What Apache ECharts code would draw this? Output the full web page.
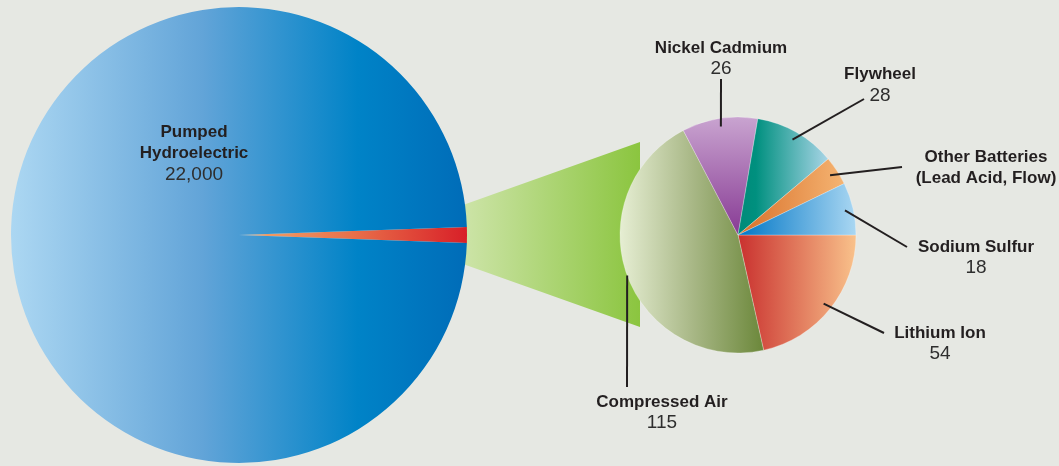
<!DOCTYPE html>
<html>
<head>
<meta charset="utf-8">
<script src="https://cdn.jsdelivr.net/npm/echarts@6/dist/echarts.min.js"></script>
<style>
  html, body { margin: 0; padding: 0; background: #e6e8e3; }
  #main { width: 1059px; height: 466px; }
</style>
</head>
<body>
<div id="main"></div>
<script>
// 数据
const bigCategories = ['Pumped Hydroelectric'];
const bigValues = [22000];

const smallCategories = ['Lithium Ion', 'Compressed Air', 'Nickel Cadmium', 'Flywheel', 'Other Batteries', 'Sodium Sulfur'];
const smallValues = [54, 115, 26, 28, 10, 18];
const smallShowValue = [true, true, true, true, false, true];

// 标签文字（换行）
const bigLabelNames = ['Pumped\nHydroelectric'];
const smallLabelNames = ['Lithium Ion', 'Compressed Air', 'Nickel Cadmium', 'Flywheel', 'Other Batteries\n(Lead Acid, Flow)', 'Sodium Sulfur'];

// 布局
const bigCenter = [239, 235], bigRadius = 228;
const smallCenter = [738, 235], smallRadius = 118;
const bigLabelPos = [194, 153.5];
const smallLabelPos = [[940, 343.5], [662, 412.5], [721, 58.5], [880, 85], [986, 168], [976, 257.5]];
const lineEndOffset = [[-56, -10.5], [-35, -25.5], [0, 20.5], [-16, 14], [-84, -1], [-69, -10.5]];
const lineStartR = [0.93, 1.0, 0.93, 0.93, 0.93, 0.93];

// 字体检测
function hasFont(name) {
  const ctx = document.createElement('canvas').getContext('2d');
  const t = 'Compressed Air 22,000';
  ctx.font = 'bold 20px monospace';
  const a = ctx.measureText(t).width;
  ctx.font = 'bold 20px "' + name + '", monospace';
  return ctx.measureText(t).width !== a;
}
const narrow = hasFont('Liberation Sans Narrow');
const nameFont = narrow ? { family: 'Liberation Sans Narrow', size: 20 } : { family: 'Liberation Sans', size: 17 };
const textColor = '#231f20';

const rich = {
  n: { fontFamily: nameFont.family, fontWeight: 'bold', fontSize: nameFont.size, lineHeight: 21, color: textColor, align: 'center' },
  v: { fontFamily: 'Liberation Sans', fontSize: 19, lineHeight: 21, color: '#2e2e2e', align: 'center' }
};

function fmt(v) { return v.toLocaleString('en-US'); }
function labelText(name, value, show) {
  let s = name.split('\n').map(x => '{n|' + x + '}').join('\n');
  if (show) s += '\n{v|' + fmt(value) + '}';
  return s;
}
function grad(x2, y2, stops) {
  return new echarts.graphic.LinearGradient(0, 0, x2, y2, stops.map(c => ({ offset: c[0], color: c[1] })));
}

const smallColors = [
  grad(1, 0, [[0, '#c9302e'], [1, '#f9c28b']]),
  grad(1, 0, [[0, '#e6eed3'], [0.5, '#a9b887'], [1, '#6b873a']]),
  grad(0, 1, [[0, '#c9a4d0'], [1, '#873a94']]),
  grad(1, 0, [[0, '#008a78'], [0.2, '#00907f'], [1, '#a9d5e7']]),
  grad(1, 0, [[0, '#d8702a'], [1, '#f5b472']]),
  grad(1, 0, [[0, '#0076c6'], [1, '#aad7f2']])
];

const restTotal = smallValues.reduce((a, b) => a + b, 0);
const bigTotal = restTotal + bigValues.reduce((a, b) => a + b, 0);
const restAngle = restTotal / bigTotal * 360;

// 小饼图各扇区的中间角度
const smallTotal = restTotal;
let cum = 0;
const midAngles = smallValues.map(v => {
  const a = -(cum + v / 2) / smallTotal * 2 * Math.PI;
  cum += v;
  return a;
});

const chart = echarts.init(document.getElementById('main'), null, { renderer: 'canvas' });

const smallBase = {
  type: 'pie',
  silent: true,
  center: smallCenter,
  radius: smallRadius,
  startAngle: 0,
  clockwise: true,
  avoidLabelOverlap: false
};

const option = {
  backgroundColor: '#e6e8e3',
  animation: false,
  graphic: [{
    type: 'polygon',
    z: 0,
    silent: true,
    shape: {
      points: [
        [bigCenter[0] + bigRadius - 4, 205],
        [640, 142],
        [640, 327],
        [bigCenter[0] + bigRadius - 4, 264]
      ]
    },
    style: { fill: grad(1, 0, [[0, '#cde4a8'], [1, '#8bc53f']]) }
  }],
  series: [
    {
      type: 'pie',
      silent: true,
      center: bigCenter,
      radius: bigRadius,
      startAngle: restAngle / 2,
      clockwise: true,
      avoidLabelOverlap: false,
      labelLine: { show: false },
      data: [
        {
          name: 'Other',
          value: restTotal,
          itemStyle: { color: grad(1, 0, [[0, '#f5a96c'], [0.5, '#e8704a'], [1, '#d81f28']]) },
          label: { show: false }
        },
        {
          name: bigCategories[0],
          value: bigValues[0],
          itemStyle: { color: grad(1, 0, [[0, '#acd7f2'], [0.42, '#62a4d8'], [0.76, '#0083c7'], [1, '#006cb8']]) },
          label: {
            show: true,
            position: 'inside',
            formatter: labelText(bigLabelNames[0], bigValues[0], true),
            rich: rich
          }
        }
      ],
      labelLayout: function (p) {
        if (p.dataIndex !== 1) return {};
        return { x: bigLabelPos[0], y: bigLabelPos[1], align: 'center', verticalAlign: 'middle' };
      }
    },
    // 小饼图（扇区）
    Object.assign({}, smallBase, {
      z: 2,
      itemStyle: { borderColor: 'rgba(255,255,255,0.45)', borderWidth: 0.6 },
      label: { show: false },
      labelLine: { show: false },
      data: smallCategories.map((c, i) => ({
        name: c,
        value: smallValues[i],
        itemStyle: { color: smallColors[i] }
      }))
    }),
    // 小饼图（标签和引线，画在扇区上面）
    Object.assign({}, smallBase, {
      z: 3,
      itemStyle: { color: 'rgba(0,0,0,0)', borderWidth: 0 },
      label: {
        show: true,
        position: 'outside',
        formatter: function (p) {
          return labelText(smallLabelNames[p.dataIndex], p.value, smallShowValue[p.dataIndex]);
        },
        rich: rich
      },
      labelLine: {
        show: true,
        length: 10,
        length2: 10,
        lineStyle: { color: '#231f20', width: 2 }
      },
      data: smallCategories.map((c, i) => ({ name: c, value: smallValues[i] })),
      labelLayout: function (p) {
        const i = p.dataIndex;
        const pos = smallLabelPos[i];
        const r = smallRadius * lineStartR[i];
        const sx = smallCenter[0] + r * Math.cos(midAngles[i]);
        const sy = smallCenter[1] - r * Math.sin(midAngles[i]);
        const end = [pos[0] + lineEndOffset[i][0], pos[1] + lineEndOffset[i][1]];
        return {
          x: pos[0],
          y: pos[1],
          align: 'center',
          verticalAlign: 'middle',
          labelLinePoints: [[sx, sy], end]
        };
      }
    })
  ]
};

chart.setOption(option);
</script>
</body>
</html>
